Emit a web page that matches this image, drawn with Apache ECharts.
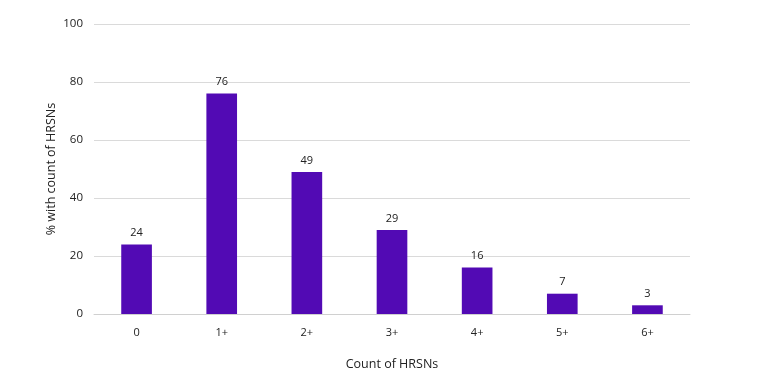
<!DOCTYPE html>
<html><head><meta charset="utf-8">
<script src="https://cdn.jsdelivr.net/npm/echarts@6/dist/echarts.min.js"></script>
<style>html,body{margin:0;padding:0;background:#fff}#c{width:768px;height:384px}</style>
</head><body><div id="c"></div>
<script>
const categories = ['0','1+','2+','3+','4+','5+','6+'];
const values = [24, 76, 49, 29, 16, 7, 3];
const yTicks = [0, 20, 40, 60, 80, 100];

const chart = echarts.init(document.getElementById('c'));
chart.setOption({
  animation: false,
  textStyle: {fontFamily: '"Open Sans", sans-serif'},
  grid: {left: 94, right: 78, top: 24, bottom: 70},
  xAxis: {
    type: 'category', data: categories,
    name: 'Count of HRSNs', nameLocation: 'middle', nameGap: 44,
    nameTextStyle: {color: '#222', fontSize: 12.5},
    axisLine: {lineStyle: {color: '#d0d0d0'}},
    axisTick: {show: false},
    axisLabel: {color: '#222', fontSize: 11, margin: 13}
  },
  yAxis: {
    type: 'value', min: yTicks[0], max: yTicks[yTicks.length-1], interval: 20,
    name: '% with count of HRSNs', nameLocation: 'middle', nameGap: 36,
    nameMoveOverlap: false,
    nameTextStyle: {color: '#222', fontSize: 12.5},
    axisLine: {show: false}, axisTick: {show: false},
    axisLabel: {color: '#222', fontSize: 11.5, margin: 11},
    splitLine: {lineStyle: {color: '#dadada'}}
  },
  series: [{
    type: 'bar', data: values, barWidth: '36%',
    itemStyle: {color: '#520ab4'},
    label: {show: true, position: 'top', color: '#222', fontSize: 11, distance: 6}
  }]
});
</script></body></html>
